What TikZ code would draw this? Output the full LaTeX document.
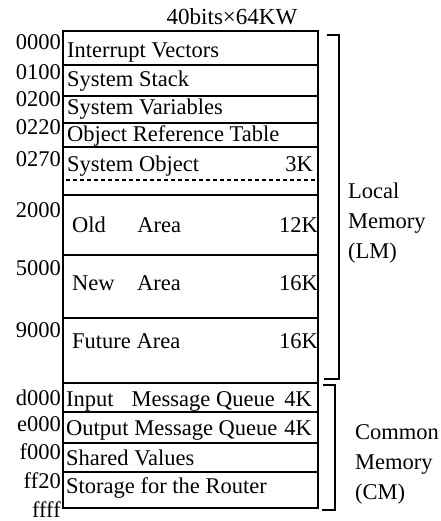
\documentclass[tikz,border=0pt]{standalone}
\usepackage{fontspec}
\setmainfont{Liberation Serif}
\begin{document}
\begin{tikzpicture}[x=1pt,y=-1pt,font=\fontsize{22.5}{30}\selectfont,
  divider/.style={line width=1.6pt},
  area/.style={anchor=base west, inner sep=0pt},
  size/.style={anchor=base east, inner sep=0pt},
  addr/.style={anchor=base east, inner sep=0pt},
  side/.style={anchor=north west, inner sep=0pt, align=left},
  brace/.style={line width=1.4pt}]
\useasboundingbox (0,0) rectangle (440,521);
\node[anchor=base, inner sep=0pt, font=\fontsize{23}{26}\selectfont] (title) at (232,25) {40bits×64KW};
% memory block
\draw[line width=2.4pt] (63,31) rectangle (318,508);
\draw[divider] (63,65) -- (318,65);
\draw[divider] (63,96) -- (318,96);
\draw[divider] (63,123) -- (318,123);
\draw[divider] (63,147) -- (318,147);
\draw[line width=1.5pt, dash pattern=on 4pt off 3pt] (66,180) -- (316,180);
\draw[divider] (63,195) -- (318,195);
\draw[divider] (63,255) -- (318,255);
\draw[divider] (63,318) -- (318,318);
\draw[line width=2.4pt] (63,383) -- (318,383);
\draw[divider] (63,412) -- (318,412);
\draw[divider] (63,443) -- (318,443);
\draw[divider] (63,472) -- (318,472);
% contents
\node[area] (intv) at (67,58) {Interrupt Vectors};
\node[area] (stack) at (67,87) {System Stack};
\node[area] (vars) at (67,115) {System Variables};
\node[area] (ort) at (67,142) {Object Reference Table};
\node[area] (sysobj) at (67,172) {System Object};
\node[size] (sysobjk) at (313,172) {3K};
\node[area] (old) at (72,232) {Old\hspace{1.4em}Area};
\node[size] (oldk) at (318,232) {12K};
\node[area] (new) at (72,290) {New\hspace{1em}Area};
\node[size] (newk) at (318,290) {16K};
\node[area] (future) at (72,348) {Future Area};
\node[size] (futurek) at (318,348) {16K};
\node[area] (inq) at (66,406) {Input\hspace{0.8em}Message Queue};
\node[size] (inqk) at (312,406) {4K};
\node[area] (outq) at (66,435) {Output Message Queue};
\node[size] (outqk) at (312,435) {4K};
\node[area] (shared) at (66,465) {Shared Values};
\node[area] (router) at (66,493) {Storage for the Router};
% addresses
\node[addr] (a0000) at (61,50) {0000};
\node[addr] (a0100) at (61,80) {0100};
\node[addr] (a0200) at (61,107) {0200};
\node[addr] (a0220) at (61,135) {0220};
\node[addr] (a0270) at (61,167) {0270};
\node[addr] (a2000) at (61,217) {2000};
\node[addr] (a5000) at (61,275) {5000};
\node[addr] (a9000) at (61,337) {9000};
\node[addr] (ad000) at (61,405) {d000};
\node[addr] (ae000) at (61,431) {e000};
\node[addr] (af000) at (61,459) {f000};
\node[addr] (aff20) at (61,488) {ff20};
\node[addr] (affff) at (61,517) {ffff};
% local / common memory
\coordinate (lmtop) at (327,35);
\coordinate (lmbot) at (324,379);
\coordinate (cmtop) at (323,385);
\coordinate (cmbot) at (322,510);
\draw[brace] (lmtop) -- (339,35) -- (339,379) -- (lmbot);
\draw[brace] (cmtop) -- (335,385) -- (335,510) -- (cmbot);
\node[side] (lm) at (348,183) {Local\\Memory\\(LM)};
\node[side] (cm) at (355,424) {Common\\Memory\\(CM)};
\end{tikzpicture}
\end{document}
